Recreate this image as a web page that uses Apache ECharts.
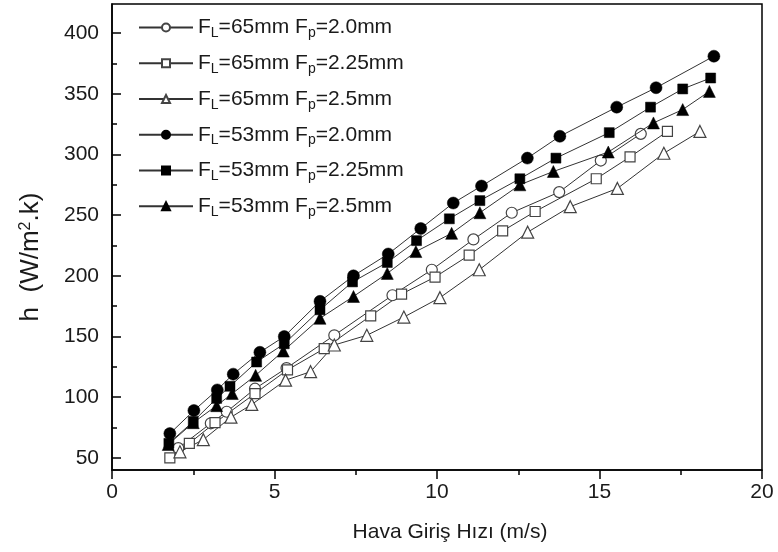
<!DOCTYPE html>
<html>
<head>
<meta charset="utf-8">
<script src="https://cdn.jsdelivr.net/npm/echarts@6/dist/echarts.min.js"></script>
<style>html,body{margin:0;padding:0;background:#fff;}#c{width:778px;height:552px;}</style>
</head>
<body>
<div id="c"></div>
<script>
// ---- data ----
const names = [
  'FL=65mm Fp=2.0mm', 'FL=65mm Fp=2.25mm', 'FL=65mm Fp=2.5mm',
  'FL=53mm Fp=2.0mm', 'FL=53mm Fp=2.25mm', 'FL=53mm Fp=2.5mm'
];
const o65_20_x = [2.04, 3.04, 3.53, 4.4, 5.37, 6.84, 8.63, 9.84, 11.12, 12.3, 13.76, 15.04, 16.27];
const o65_20_y = [58, 78.5, 88, 107, 124, 151, 184, 205, 230, 252, 269, 295, 317];
const o65_225_x = [1.78, 2.38, 3.17, 4.4, 5.4, 6.53, 7.96, 8.91, 9.94, 10.99, 12.02, 13.02, 14.9, 15.94, 17.09];
const o65_225_y = [50, 62, 79, 103, 122.5, 140, 167, 185, 199, 217, 237, 253, 280, 298, 319];
const o65_25_x = [2.09, 2.81, 3.66, 4.3, 5.34, 6.11, 6.84, 7.84, 8.98, 10.09, 11.3, 12.79, 14.1, 15.55, 16.98, 18.09];
const o65_25_y = [55, 65, 83.5, 94, 114, 121, 143, 151, 166, 182, 205, 236, 257, 272, 301, 319];
const f53_20_x = [1.78, 2.52, 3.24, 3.73, 4.55, 5.3, 6.4, 7.43, 8.5, 9.5, 10.5, 11.37, 12.78, 13.78, 15.53, 16.74, 18.52];
const f53_20_y = [70, 89, 106, 119, 137, 150, 179, 200, 218, 239, 260, 274, 297, 315, 339, 355, 381];
const f53_225_x = [1.75, 2.5, 3.22, 3.63, 4.45, 5.3, 6.4, 7.4, 8.47, 9.37, 10.38, 11.32, 12.55, 13.66, 15.3, 16.57, 17.56, 18.42];
const f53_225_y = [62, 80, 99, 109, 129, 144, 172, 195, 211, 229, 247, 262, 280, 297, 318, 339, 354, 363];
const f53_25_x = [1.73, 2.5, 3.22, 3.7, 4.42, 5.27, 6.4, 7.43, 8.47, 9.35, 10.45, 11.32, 12.55, 13.58, 15.27, 16.66, 17.56, 18.38];
const f53_25_y = [61, 79, 93, 103, 118, 138, 165, 183, 202, 220, 235, 252, 275, 286, 302, 326, 337, 352];

const yMajorTicks = [50, 100, 150, 200, 250, 300, 350, 400];
const yMinorTicks = [75, 125, 175, 225, 275, 325, 375];

const xsAll = [o65_20_x, o65_225_x, o65_25_x, f53_20_x, f53_225_x, f53_25_x];
const ysAll = [o65_20_y, o65_225_y, o65_25_y, f53_20_y, f53_225_y, f53_25_y];
const symbols = ['circle', 'rect', 'triangle', 'circle', 'rect', 'triangle'];
const sizes = [11, 10, 12, 12, 10, 12];
const filled = [false, false, false, true, true, true];

const FONT = '"Liberation Sans", Arial, Helvetica, sans-serif';
const TXT = '#1a1a1a';

const series = names.map((n, i) => ({
  name: n,
  type: 'line',
  xAxisIndex: 0,
  yAxisIndex: 0,
  data: xsAll[i].map((x, k) => [x, ysAll[i][k]]),
  symbol: symbols[i],
  symbolSize: sizes[i],
  showAllSymbol: true,
  lineStyle: { color: '#333', width: 1 },
  itemStyle: filled[i]
    ? { color: '#000', borderColor: '#000', borderWidth: 0.5 }
    : { color: '#fff', borderColor: '#444', borderWidth: 1.2 },
  emphasis: { disabled: true },
  z: filled[i] ? 3 : 2
}));

const chart = echarts.init(document.getElementById('c'), null, { renderer: 'canvas' });
chart.setOption({
  animation: false,
  backgroundColor: '#fff',
  grid: { left: 112, right: 16, top: 4, bottom: 82, show: true, borderColor: '#000', borderWidth: 1.5, backgroundColor: 'transparent' },
  legend: {
    orient: 'vertical',
    left: 133,
    top: 12,
    itemWidth: 54,
    itemHeight: 10,
    itemGap: 12.5,
    selectedMode: false,
    data: names,
    formatter: function (name) {
      const m = name.match(/FL=(\S+) Fp=(\S+)/);
      return '{a|F}{s|L}{a|=' + m[1] + ' F}{s|p}{a|=' + m[2] + '}';
    },
    textStyle: {
      rich: {
        a: { fontSize: 21, fontFamily: FONT, color: TXT, lineHeight: 25.5 },
        s: { fontSize: 14, fontFamily: FONT, color: TXT, lineHeight: 14, verticalAlign: 'bottom' }
      }
    }
  },
  xAxis: [{
    type: 'value',
    min: 0, max: 20, interval: 5,
    name: 'Hava Giriş Hızı (m/s)',
    nameLocation: 'middle',
    nameGap: 52,
    nameTextStyle: { fontSize: 21, fontFamily: FONT, color: TXT, padding: [0, 0, 0, 26] },
    axisLine: { show: true, lineStyle: { color: '#000', width: 1.5 } },
    axisTick: { show: true, inside: false, length: 9, lineStyle: { color: '#000', width: 1.5 } },
    minorTick: { show: true, splitNumber: 2, length: 5, lineStyle: { color: '#000', width: 1.5 } },
    axisLabel: { fontSize: 21, fontFamily: FONT, color: TXT, margin: 12 },
    splitLine: { show: false },
    minorSplitLine: { show: false }
  }],
  yAxis: [{
    type: 'value',
    min: 40, max: 424,
    name: '{a|h  (W/m}{sup|2}{a|.k)}',
    nameLocation: 'middle',
    nameGap: 68,
    nameTextStyle: {
      padding: [0, 40, 0, 0],
      rich: {
        a: { fontSize: 26, fontFamily: FONT, color: TXT },
        sup: { fontSize: 16, fontFamily: FONT, color: TXT, verticalAlign: 'top' }
      }
    },
    axisLine: { show: true, lineStyle: { color: '#000', width: 1.5 } },
    axisTick: { show: true, inside: true, length: 9, customValues: yMajorTicks, lineStyle: { color: '#000', width: 1.5 } },
    axisLabel: { fontSize: 21, fontFamily: FONT, color: TXT, margin: 13, customValues: yMajorTicks },
    splitLine: { show: false }
  }, {
    type: 'value',
    position: 'left',
    min: 40, max: 424,
    axisLine: { show: false },
    axisTick: { show: true, inside: true, length: 5, customValues: yMinorTicks, lineStyle: { color: '#000', width: 1.5 } },
    axisLabel: { show: false },
    splitLine: { show: false }
  }],
  series: series
});
</script>
</body>
</html>
